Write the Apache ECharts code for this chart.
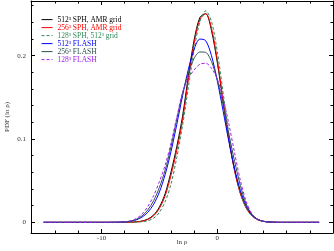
<!DOCTYPE html>
<html>
<head>
<meta charset="utf-8">
<script src="https://cdn.jsdelivr.net/npm/echarts@6/dist/echarts.min.js"></script>
<style>
html,body{margin:0;padding:0;background:#fff;}
#chart{width:334px;height:251px;}
</style>
</head>
<body>
<div id="chart"></div>
<script>
// ln rho grid (x values)
const lnRho = [-15, -13, -11, -10, -9.5, -9, -8.5, -8, -7.5, -7, -6.5, -6, -5.5, -5, -4.5, -4, -3.5, -3, -2.5, -2, -1.5, -1, -0.5, 0, 0.5, 1, 1.5, 2, 2.5, 3, 3.5, 4, 4.5, 5, 5.5, 6, 7, 8, 8.8];

const sph512 = [0, 0, 0, 0, 0, 0, 0, 0.0001, 0.0002, 0.0006, 0.0016, 0.0039, 0.0088, 0.0184, 0.0348, 0.0605, 0.091, 0.1275, 0.176, 0.219, 0.246, 0.2505, 0.230, 0.192, 0.145, 0.0995, 0.062, 0.035, 0.0179, 0.0083, 0.0035, 0.0013, 0.0005, 0.0001, 0, 0, 0, 0, 0];
const sph256 = [0, 0, 0, 0, 0, 0, 0, 0, 0.0001, 0.0005, 0.0013, 0.0034, 0.0079, 0.0168, 0.032, 0.0565, 0.0865, 0.1225, 0.171, 0.215, 0.2435, 0.2505, 0.233, 0.195, 0.147, 0.100, 0.0615, 0.034, 0.017, 0.0076, 0.0031, 0.0011, 0.0004, 0.0001, 0, 0, 0, 0, 0];
const sph128 = [0, 0, 0, 0, 0, 0, 0, 0, 0.0001, 0.0002, 0.0007, 0.0019, 0.0050, 0.012, 0.025, 0.046, 0.078, 0.1165, 0.162, 0.207, 0.241, 0.254, 0.241, 0.205, 0.156, 0.106, 0.065, 0.0352, 0.0172, 0.0075, 0.0029, 0.001, 0.0003, 0.0001, 0, 0, 0, 0, 0];
const flash512 = [0, 0, 0, 0, 0, 0.0001, 0.0002, 0.0006, 0.0014, 0.003, 0.0063, 0.0121, 0.0217, 0.0365, 0.0577, 0.085, 0.1176, 0.152, 0.1836, 0.208, 0.220, 0.218, 0.200, 0.170, 0.134, 0.097, 0.064, 0.038, 0.020, 0.009, 0.0035, 0.0012, 0.0004, 0.0001, 0, 0, 0, 0, 0];
const flash256 = [0, 0, 0, 0, 0, 0.0001, 0.0002, 0.0005, 0.0015, 0.0036, 0.0078, 0.015, 0.026, 0.042, 0.063, 0.091, 0.124, 0.155, 0.179, 0.197, 0.2045, 0.204, 0.193, 0.171, 0.141, 0.106, 0.073, 0.044, 0.022, 0.0095, 0.0035, 0.0011, 0.0003, 0.0001, 0, 0, 0, 0, 0];
const flash128 = [0, 0, 0, 0, 0, 0.0001, 0.0002, 0.0006, 0.0018, 0.0045, 0.010, 0.019, 0.032, 0.049, 0.069, 0.095, 0.126, 0.156, 0.173, 0.183, 0.1898, 0.191, 0.185, 0.172, 0.149, 0.118, 0.083, 0.050, 0.025, 0.010, 0.0035, 0.001, 0.0003, 0.0001, 0, 0, 0, 0, 0];

const seriesNames = ['512³ SPH, AMR grid', '256³ SPH, AMR grid', '128³ SPH, 512³ grid', '512³ FLASH', '256³ FLASH', '128³ FLASH'];

const xMajorTicks = [-10, 0];
const xMinorTicks = [-14, -12, -8, -6, -4, -2, 2, 4, 6, 8];
const yMajorTicks = [0, 0.1, 0.2];
const yMinorTicks = [0.02, 0.04, 0.06, 0.08, 0.12, 0.14, 0.16, 0.18, 0.22, 0.24, 0.26];

const FONT = 'Liberation Serif';
const X_MIN = -16.1, X_MAX = 10;
const Y_MIN = -0.0128, Y_MAX = 0.2657;

const colors = ['#000000', '#ff0000', '#2e8b57', '#0000ff', '#2f4f4f', '#a020f0'];
const dashes = ['solid', 'solid', [3, 2], 'solid', 'solid', [3, 2]];
const values = [sph512, sph256, sph128, flash512, flash256, flash128];

function xAx(pos, ticks, len, showLine, labels, name) {
  return {
    type: 'value', position: pos, min: X_MIN, max: X_MAX,
    name: name || '', nameLocation: 'middle', nameGap: 6, nameMoveOverlap: false,
    nameTextStyle: { fontFamily: FONT, fontSize: 7, color: '#333' },
    axisLine: { show: showLine, onZero: false, lineStyle: { color: '#000', width: 1 } },
    axisTick: { show: true, inside: true, length: len, customValues: ticks, lineStyle: { color: '#000', width: 1 } },
    axisLabel: { show: !!labels, customValues: labels || [], margin: 2, fontFamily: FONT, fontSize: 7, color: '#333' },
    splitLine: { show: false }
  };
}
function yAx(pos, ticks, len, showLine, labels, name) {
  return {
    type: 'value', position: pos, min: Y_MIN, max: Y_MAX,
    name: name || '', nameLocation: 'middle', nameGap: 20, nameRotate: 90, nameMoveOverlap: false,
    nameTextStyle: { fontFamily: FONT, fontSize: 7, color: '#333' },
    axisLine: { show: showLine, onZero: false, lineStyle: { color: '#000', width: 1 } },
    axisTick: { show: true, inside: true, length: len, customValues: ticks, lineStyle: { color: '#000', width: 1 } },
    axisLabel: { show: !!labels, customValues: labels || [], margin: 5, fontFamily: FONT, fontSize: 7, color: '#333' },
    splitLine: { show: false }
  };
}

const chart = echarts.init(document.getElementById('chart'), null, { renderer: 'canvas' });
chart.setOption({
  animation: false,
  backgroundColor: '#fff',
  grid: { left: 31, right: 1, top: 1, bottom: 18, outerBoundsMode: 'none' },
  xAxis: [
    xAx('bottom', xMajorTicks, 4, true, xMajorTicks, 'ln ρ'),
    xAx('bottom', xMinorTicks, 2.5, false),
    xAx('top', xMajorTicks, 4, true),
    xAx('top', xMinorTicks, 2.5, false)
  ],
  yAxis: [
    yAx('left', yMajorTicks, 4, true, yMajorTicks, 'PDF (ln ρ)'),
    yAx('left', yMinorTicks, 2.5, false),
    yAx('right', yMajorTicks, 4, true),
    yAx('right', yMinorTicks, 2.5, false)
  ],
  legend: {
    orient: 'vertical', left: 41, top: 15.6, padding: 0,
    itemWidth: 11, itemHeight: 7, itemGap: 0,
    itemStyle: { opacity: 0, borderWidth: 0 },
    lineStyle: { width: 1 },
    data: seriesNames.map((n, i) => ({ name: n, textStyle: { color: colors[i], fontFamily: FONT, fontSize: 7.5, lineHeight: 7.4 } }))
  },
  series: seriesNames.map((n, i) => ({
    name: n, type: 'line', xAxisIndex: 0, yAxisIndex: 0,
    symbol: 'none', showSymbol: false, smooth: 0.3,
    color: colors[i],
    lineStyle: { color: colors[i], width: 1, type: dashes[i] },
    data: lnRho.map((x, k) => [x, values[i][k]])
  }))
});
</script>
</body>
</html>
